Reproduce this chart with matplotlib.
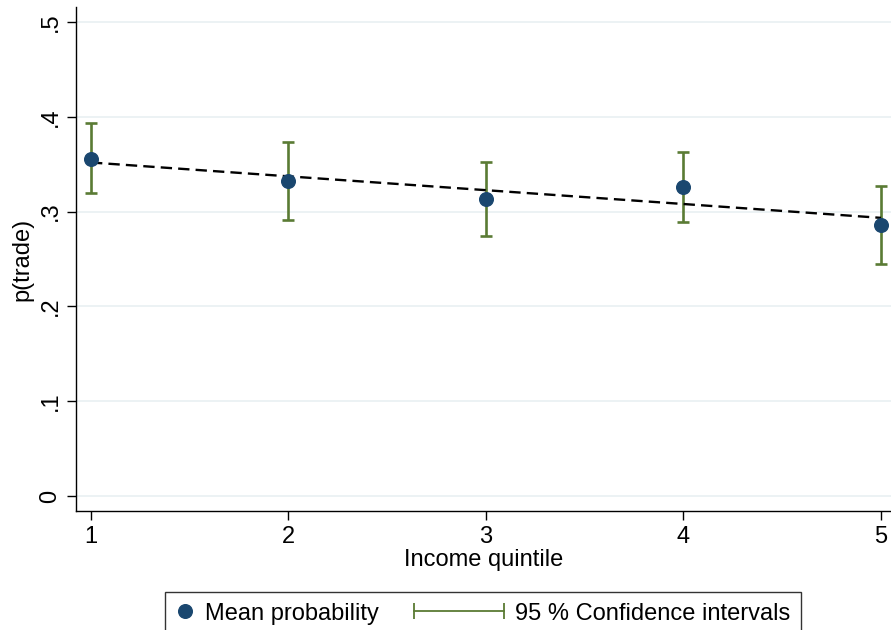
import numpy as np
import matplotlib
matplotlib.use('Agg')
from matplotlib import pyplot as plt
from matplotlib.lines import Line2D
from matplotlib.legend_handler import HandlerLine2D

plt.rcParams['font.family'] = ['Liberation Sans', 'DejaVu Sans']

quintile = np.array([1, 2, 3, 4, 5])
mean_p   = np.array([0.356, 0.332, 0.313, 0.326, 0.286])
ci_low   = np.array([0.320, 0.291, 0.274, 0.289, 0.245])
ci_high  = np.array([0.393, 0.373, 0.352, 0.363, 0.327])

yticks  = [0, 0.1, 0.2, 0.3, 0.4, 0.5]
ylabels = ['0', '.1', '.2', '.3', '.4', '.5']

navy  = '#1a476f'
green = '#5a7b34'
fs = 17

# linear fit through the means
slope, icpt = np.polyfit(quintile, mean_p, 1)
fit = icpt + slope*quintile


class WideBar(HandlerLine2D):
    # error-bar key that reaches further left than the short handle
    def __init__(self, extra, **kw):
        self.extra = extra
        super().__init__(**kw)

    def get_xdata(self, legend, xdescent, ydescent, width, height, fontsize):
        x0 = -xdescent - self.extra
        x1 = -xdescent + width
        return [x0, x1], [x0, x1]


fig = plt.figure(figsize=(8.91, 6.30), dpi=100)
ax = fig.add_axes([76/891, 1-511/630, 815/891, (511-7)/630])

for t in yticks:
    ax.axhline(t, color='#eaf1f3', lw=1.3, zorder=0)

ax.errorbar(quintile, mean_p, yerr=[mean_p-ci_low, ci_high-mean_p], fmt='none',
            ecolor=green, elinewidth=1.9, capsize=4.4, capthick=1.9, zorder=2)
ax.plot(quintile, fit, color='black', ls=(0, (4.8, 2.6)), lw=1.7, zorder=3)
ax.plot(quintile, mean_p, 'o', color=navy, ms=9.8, zorder=4)

ax.set_xlim(1-15/197.5, 5+10/197.5)
ax.set_ylim(-15/948, (496-7)/948)
ax.set_xticks(quintile)
ax.set_yticks(yticks)
ax.set_yticklabels(ylabels, rotation=90, va='center')
ax.tick_params(axis='both', labelsize=fs, length=6.5, width=1.0, direction='out', pad=4)
ax.spines['top'].set_visible(False)
ax.spines['right'].set_visible(False)
ax.spines['left'].set_linewidth(1.0)
ax.spines['bottom'].set_linewidth(1.0)

ax.set_xlabel('Income quintile', fontsize=fs, labelpad=1)
ax.set_ylabel('p(trade)', fontsize=fs, labelpad=4)

h1 = Line2D([], [], ls='none', marker='o', color=navy, ms=9.8)
h2 = Line2D([], [], color=green, lw=1.3, marker='|', ms=11, mew=1.3)
leg = fig.legend([h1, h2], ['Mean probability', '95 % Confidence intervals'],
                 loc='upper left', bbox_to_anchor=(165/891, 1-592/630), ncol=2,
                 fontsize=fs, frameon=True, fancybox=False, edgecolor='black',
                 handlelength=0.8, columnspacing=4.5, handletextpad=0.45,
                 borderpad=0.45, borderaxespad=0,
                 handler_map={h2: WideBar(51, numpoints=2)})
leg.get_frame().set_linewidth(1.0)

fig.savefig('out.png', dpi=100)
